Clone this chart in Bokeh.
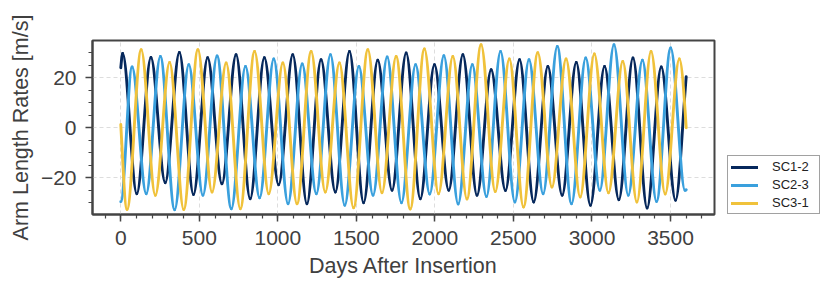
import numpy as np
from bokeh.plotting import figure
from bokeh.models import Legend, LegendItem, SingleIntervalTicker, Range1d, ColumnDataSource
from bokeh.embed import file_html
from bokeh.resources import INLINE

# ---------------- data ----------------
series_names = ["SC1-2", "SC2-3", "SC3-1"]
series_colors = ["#06285c", "#3aa0dd", "#f0c23b"]

# start point, successive extrema (peak/trough), end point
sc12_days = [0, 12, 102, 192, 283, 373, 463, 553, 644, 734, 824, 914, 1005, 1095, 1185,
             1275, 1366, 1456, 1546, 1636, 1727, 1817, 1907, 1997, 2088, 2178, 2268, 2358,
             2449, 2539, 2629, 2719, 2810, 2900, 2990, 3080, 3171, 3261, 3351, 3441, 3532, 3600]
sc12_vals = [24.0, 29.7, -26.4, 28.1, -22.0, 30.1, -26.7, 28.0, -22.4, 29.2, -28.4, 28.0,
             -22.8, 29.2, -30.4, 27.2, -25.7, 30.5, -30.0, 27.0, -25.0, 29.9, -28.4, 25.2,
             -25.0, 29.2, -27.0, 23.2, -25.1, 27.2, -29.7, 24.5, -27.0, 26.1, -31.0, 24.5,
             -28.8, 27.9, -32.1, 24.3, -29.0, 20.4]

sc23_days = [0, 72, 162, 252, 343, 433, 523, 613, 704, 794, 884, 974, 1065, 1155, 1245,
             1335, 1426, 1516, 1606, 1696, 1787, 1877, 1967, 2057, 2148, 2238, 2328, 2418,
             2509, 2599, 2689, 2779, 2870, 2960, 3050, 3140, 3231, 3321, 3411, 3501, 3592, 3600]
sc23_vals = [-29.6, 24.3, -26.4, 28.5, -32.8, 25.2, -27.0, 28.7, -32.4, 24.5, -28.0, 27.5,
             -30.4, 25.5, -26.4, 29.2, -31.0, 24.5, -27.0, 28.3, -30.0, 25.2, -26.5, 28.8,
             -30.5, 25.2, -27.5, 30.5, -29.7, 27.2, -26.4, 32.5, -30.4, 27.9, -25.0, 33.2,
             -27.0, 27.0, -29.5, 31.9, -25.0, -24.8]

sc31_days = [0, 40, 130, 220, 311, 401, 491, 581, 671, 761, 852, 942, 1032, 1122, 1212,
             1302, 1392, 1482, 1573, 1663, 1753, 1843, 1933, 2023, 2114, 2204, 2294, 2384,
             2474, 2564, 2655, 2745, 2835, 2925, 3015, 3105, 3196, 3286, 3376, 3466, 3556, 3600]
sc31_vals = [1.3, -32.7, 31.2, -27.0, 26.1, -32.7, 31.2, -25.7, 25.9, -32.4, 30.5, -26.4,
             25.9, -30.4, 30.5, -25.7, 25.9, -32.0, 31.2, -26.0, 28.5, -32.5, 31.5, -26.4,
             28.5, -28.5, 33.2, -25.5, 27.5, -31.7, 30.0, -23.7, 27.5, -27.7, 29.5, -26.0,
             26.5, -29.7, 30.5, -26.5, 27.5, 0.0]

y_tick_labels = {-20: "\u221220", 0: "0", 20: "20"}

# ---------------- figure ----------------
p = figure(frame_width=622, frame_height=174, output_backend="svg", toolbar_location=None,
           x_range=Range1d(-180, 3780), y_range=Range1d(-34.7, 34.9),
           min_border_left=92, min_border_right=114, min_border_top=40, min_border_bottom=74)
p.background_fill_color = "white"
p.border_fill_color = "white"
p.outline_line_color = "#444444"
p.outline_line_width = 2


def smooth_segments(days, vals):
    d = np.asarray(days, float)
    v = np.asarray(vals, float)
    m = np.zeros_like(v)  # slope zero at the extrema
    a0 = abs(v[1]); w0 = np.pi / (d[2] - d[1])
    m[0] = np.sign(v[1] - v[0]) * w0 * np.sqrt(max(a0 ** 2 - v[0] ** 2, 0.0))
    a1 = abs(v[-2]); w1 = np.pi / (d[-2] - d[-3])
    m[-1] = np.sign(v[-1] - v[-2]) * w1 * np.sqrt(max(a1 ** 2 - v[-1] ** 2, 0.0))
    dt = d[1:] - d[:-1]
    return ColumnDataSource(dict(
        x0=d[:-1], y0=v[:-1], x1=d[1:], y1=v[1:],
        cx0=d[:-1] + dt / 3, cy0=v[:-1] + m[:-1] * dt / 3,
        cx1=d[1:] - dt / 3, cy1=v[1:] - m[1:] * dt / 3))


renderers = []
for days, vals, col in [(sc12_days, sc12_vals, series_colors[0]),
                        (sc23_days, sc23_vals, series_colors[1]),
                        (sc31_days, sc31_vals, series_colors[2])]:
    src = smooth_segments(days, vals)
    r = p.bezier(x0="x0", y0="y0", x1="x1", y1="y1", cx0="cx0", cy0="cy0",
                 cx1="cx1", cy1="cy1", source=src, line_color=col, line_width=2.9,
                 line_cap="round")
    renderers.append(r)

# axes
p.xaxis.ticker = SingleIntervalTicker(interval=500, num_minor_ticks=5)
p.yaxis.ticker = SingleIntervalTicker(interval=20, num_minor_ticks=4)
p.yaxis.major_label_overrides = y_tick_labels
p.xaxis.axis_label = "Days After Insertion"
p.yaxis.axis_label = "Arm Length Rates [m/s]"
for ax in (p.xaxis, p.yaxis):
    ax.axis_line_color = "#444444"
    ax.axis_line_width = 2
    ax.major_tick_line_color = "#444444"
    ax.major_tick_line_width = 1.5
    ax.minor_tick_line_color = "#444444"
    ax.minor_tick_line_width = 1.2
    ax.major_tick_out = 7
    ax.major_tick_in = 0
    ax.minor_tick_out = 4
    ax.minor_tick_in = 0
    ax.major_label_text_font = "Liberation Sans"
    ax.major_label_text_font_size = "21px"
    ax.major_label_text_color = "#404040"
    ax.axis_label_text_font = "Liberation Sans"
    ax.axis_label_text_font_size = "21.5px"
    ax.axis_label_text_font_style = "normal"
    ax.axis_label_text_color = "#404040"
p.xaxis.major_label_standoff = 9
p.yaxis.major_label_standoff = 9
p.xaxis.axis_label_standoff = 6
p.yaxis.axis_label_standoff = 5

for g in (p.xgrid, p.ygrid):
    g.grid_line_color = "#dddddd"
    g.grid_line_dash = "4 3"
    g.grid_line_width = 1

legend = Legend(items=[LegendItem(label=n, renderers=[r]) for n, r in zip(series_names, renderers)],
                location=(13, 0), orientation="vertical")
legend.border_line_color = "#444444"
legend.border_line_width = 1.5
legend.background_fill_color = "white"
legend.padding = 3
legend.spacing = 3
legend.margin = 0
legend.glyph_width = 27
legend.glyph_height = 14
legend.label_height = 14
legend.label_width = 44
legend.label_standoff = 14
legend.label_text_font = "Liberation Sans"
legend.label_text_font_size = "13px"
legend.label_text_color = "#222222"
p.add_layout(legend, "right")

open("out.html", "w").write(file_html(p, INLINE))
